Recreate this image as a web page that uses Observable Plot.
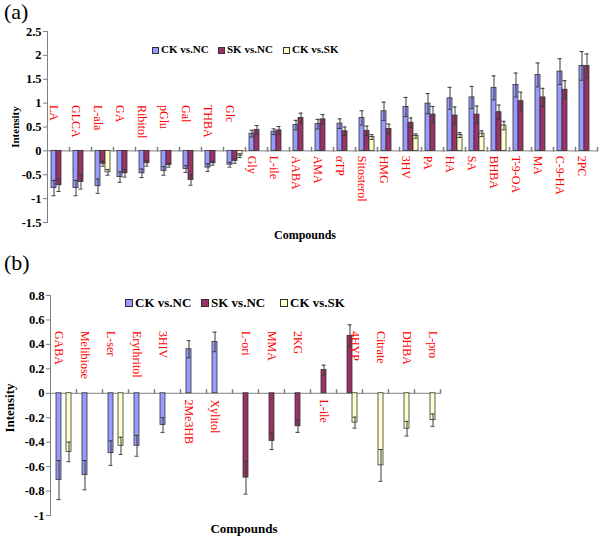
<!DOCTYPE html>
<html>
<head>
<meta charset="utf-8">
<script src="https://cdn.jsdelivr.net/npm/d3@7"></script>
<script src="https://cdn.jsdelivr.net/npm/@observablehq/plot@0.6"></script>
<style>
  body { margin: 0; background: #fff; }
  #root { position: relative; width: 600px; height: 537px; overflow: hidden;
          font-family: "Liberation Serif", "Times New Roman", serif; color: #000; }
  .abs { position: absolute; white-space: nowrap; }
  .panelTag { font-size: 22px; }
  .bold { font-weight: bold; }
  .sw { position: absolute; border: 1px solid #333; box-sizing: border-box; }
</style>
</head>
<body>
<div id="root"></div>
<script>
// ---------- shared ----------
const seriesNames = ["CK vs.NC", "SK vs.NC", "CK vs.SK"];
const seriesColors = ["#9999ff", "#993366", "#ffffcc"];

// ---------- panel (a) ----------
const compoundsA = ["LA","GLCA","L-ala","GA","Ribitol","pGlu","Gal","THBA","Glc","Gly","L-ile","AABA","AMA","αTP","Sitosterol","HMG","3HV","PA","HA","SA","BHBA","T-9-OA","MA","C-9-HA","2PC"];
const ckA     = [-0.78,-0.78,-0.74,-0.55,-0.47,-0.42,-0.38,-0.35,-0.29,0.36,0.40,0.54,0.56,0.57,0.69,0.83,0.92,0.99,1.10,1.12,1.32,1.38,1.59,1.66,1.78];
const ckAErr  = [0.16,0.16,0.15,0.11,0.09,0.09,0.07,0.08,0.05,0.07,0.06,0.10,0.10,0.10,0.15,0.19,0.20,0.21,0.23,0.23,0.25,0.25,0.25,0.27,0.30];
const skA     = [-0.72,-0.65,-0.27,-0.47,-0.26,-0.30,-0.61,-0.26,-0.21,0.44,0.43,0.69,0.66,0.41,0.42,0.46,0.59,0.76,0.74,0.76,0.81,1.04,1.12,1.28,1.78];
const skAErr  = [0.13,0.15,0.05,0.08,0.06,0.04,0.11,0.04,0.05,0.09,0.08,0.10,0.10,0.09,0.10,0.10,0.10,0.17,0.18,0.18,0.15,0.19,0.19,0.19,0.25];
const cksA    = [null,null,-0.45,null,null,null,null,null,-0.10,null,null,null,null,null,0.29,null,0.31,null,0.33,0.36,0.53,null,null,null,null];
const cksAErr = [null,null,0.06,null,null,null,null,null,0.04,null,null,null,null,null,0.05,null,0.045,null,0.05,0.06,0.09,null,null,null,null];
const yTicksA = [-1.5,-1,-0.5,0,0.5,1,1.5,2,2.5];

// ---------- panel (b) ----------
const compoundsB = ["GABA","Melibiose","L-ser","Erythritol","3HIV","2Me3HB","Xylitol","L-ori","MMA","2KG","L-ile","4HYP","Citrate","DHBA","L-pro"];
const ckB     = [-0.71,-0.67,-0.49,-0.43,-0.26,0.36,0.42,null,null,null,null,null,null,null,null];
const ckBErr  = [0.16,0.12,0.10,0.085,0.06,0.07,0.08,null,null,null,null,null,null,null,null];
const skB     = [null,null,null,null,null,null,null,-0.69,-0.39,-0.27,0.19,0.47,null,null,null];
const skBErr  = [null,null,null,null,null,null,null,0.135,0.07,0.05,0.04,0.09,null,null,null];
const cksB    = [-0.48,null,-0.43,null,null,null,null,null,null,null,null,-0.24,-0.59,-0.29,-0.22];
const cksBErr = [0.08,null,0.07,null,null,null,null,null,null,null,null,0.045,0.13,0.06,0.05];
const yTicksB = [-1,-0.8,-0.6,-0.4,-0.2,0,0.2,0.4,0.6,0.8];

const root = document.getElementById("root");

function addText(txt, left, top, cls, extraStyle) {
  const d = document.createElement("div");
  d.className = "abs " + (cls || "");
  d.textContent = txt;
  d.style.left = left + "px";
  d.style.top = top + "px";
  if (extraStyle) Object.assign(d.style, extraStyle);
  root.appendChild(d);
  return d;
}

function addLegend(lefts, yCenter, sw, fontSize) {
  seriesNames.forEach((s, i) => {
    const b = document.createElement("div");
    b.className = "sw";
    b.style.left = lefts[i] + "px";
    b.style.top = (yCenter - sw / 2) + "px";
    b.style.width = sw + "px";
    b.style.height = sw + "px";
    b.style.background = seriesColors[i];
    root.appendChild(b);
    addText(s, lefts[i] + sw + 2, yCenter - fontSize * 0.6, "bold", {fontSize: fontSize + "px", lineHeight: "1.2"});
  });
}

function drawPanel(o) {
  const vals = o.vals, errs = o.errs, cats = o.cats;
  const rows = [];
  cats.forEach((c, i) => seriesNames.forEach((s, j) => {
    const v = vals[j][i];
    if (v != null) rows.push({cat: c, series: s, v: v, e: errs[j][i]});
  }));
  // label sits on the side opposite the bars, over the first bar of that kind
  const labels = cats.map((c, i) => {
    const present = seriesNames.map((s, j) => ({s: s, v: vals[j][i]})).filter(d => d.v != null);
    const neg = present.find(d => d.v < 0);
    return neg ? {cat: c, series: neg.s, y: o.labelAbove} : {cat: c, series: present[0].s, y: o.labelBelow};
  });
  const tickShape = {draw(ctx, l) { ctx.moveTo(0, 0); ctx.lineTo(0, -l); }};
  const errColor = "#3a3a3a";
  const svg = Plot.plot({
    width: 600, height: o.height,
    marginTop: o.marginTop, marginBottom: o.marginBottom, marginLeft: 45, marginRight: o.marginRight,
    style: {fontFamily: "'Liberation Serif', 'Times New Roman', serif", background: "transparent", overflow: "visible"},
    fx: {domain: cats, padding: 0, axis: null, label: null},
    x: {domain: seriesNames, paddingInner: 0, paddingOuter: o.xPadOuter, axis: null},
    y: {domain: o.yDomain, axis: null},
    color: {domain: seriesNames, range: seriesColors},
    marks: [
      Plot.ruleY([0], {stroke: "#808080", strokeWidth: 1}),
      Plot.vector(cats, {fx: d => d, y: () => 0, frameAnchor: "right", length: 3.5, rotate: 0, anchor: "start", shape: tickShape, stroke: "#808080"}),
      Plot.barY(rows, {fx: "cat", x: "series", y: "v", fill: "series", stroke: "#333", strokeWidth: 0.8}),
      Plot.ruleX(rows, {fx: "cat", x: "series", y1: d => d.v - d.e, y2: d => d.v + d.e, stroke: errColor}),
      Plot.tickY(rows, {fx: "cat", x: "series", y: d => d.v + d.e, stroke: errColor, insetLeft: 0.5, insetRight: 0.5}),
      Plot.tickY(rows, {fx: "cat", x: "series", y: d => d.v - d.e, stroke: errColor, insetLeft: 0.5, insetRight: 0.5}),
      Plot.text(labels, {fx: "cat", x: "series", y: "y", text: "cat", rotate: 90, textAnchor: "start", fill: "#ff0000", fontSize: o.labelFont}),
      Plot.frame({anchor: "left", facetAnchor: "left", stroke: "#808080"}),
      Plot.axisY({ticks: o.yTicks, tickFormat: d => String(d), tickSize: 4, tickPadding: 2, stroke: "#808080", fill: "#000", fontWeight: "bold", fontSize: o.tickFont, label: null})
    ]
  });
  svg.style.position = "absolute";
  svg.style.left = "0px";
  svg.style.top = o.top + "px";
  root.appendChild(svg);
}

// panel (a)
addText("(a)", 4, -1, "panelTag");
drawPanel({
  cats: compoundsA, vals: [ckA, skA, cksA], errs: [ckAErr, skAErr, cksAErr],
  yDomain: [-1.5, 2.5], yTicks: yTicksA,
  top: 20, height: 225, marginTop: 11, marginBottom: 23, marginRight: 2,
  xPadOuter: 0.44, labelAbove: 0.96, labelBelow: -0.1, tickFont: 12.5, labelFont: 12
});
addLegend([152, 218, 283], 50, 7, 11);
addText("Intensity", 15, 127, "bold", {fontSize: "11px", transform: "translate(-50%,-50%) rotate(-90deg)"});
addText("Compounds", 305, 235, "bold", {fontSize: "12px", transform: "translate(-50%,-50%)"});

// panel (b)
addText("(b)", 4, 250, "panelTag");
drawPanel({
  cats: compoundsB, vals: [ckB, skB, cksB], errs: [ckBErr, skBErr, cksBErr],
  yDomain: [-1, 0.8], yTicks: yTicksB,
  top: 280, height: 257, marginTop: 15, marginBottom: 22, marginRight: 155,
  xPadOuter: 0.69, labelAbove: 0.51, labelBelow: -0.05, tickFont: 12.5, labelFont: 12
});
addLegend([125, 201, 280], 303, 8, 13);
addText("Intensity", 10, 408, "bold", {fontSize: "13px", transform: "translate(-50%,-50%) rotate(-90deg)"});
addText("Compounds", 244, 529, "bold", {fontSize: "13px", transform: "translate(-50%,-50%)"});
</script>
</body>
</html>
